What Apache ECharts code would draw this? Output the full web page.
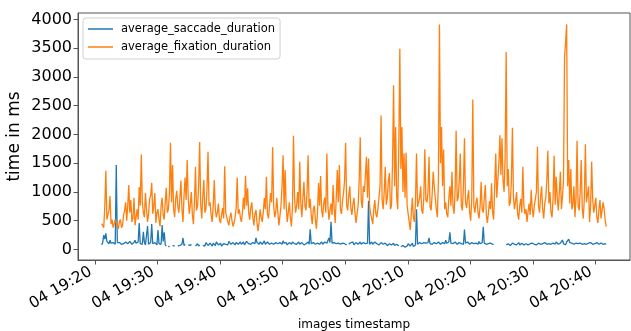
<!DOCTYPE html>
<html>
<head>
<meta charset="utf-8">
<script src="https://cdn.jsdelivr.net/npm/echarts@6/dist/echarts.min.js"></script>
<style>
  html, body { margin: 0; padding: 0; background: #fff; }
  #chart { width: 631px; height: 331px; }
</style>
</head>
<body>
<div id="chart"></div>
<script>
// samples every 10 s from 04 19:21:04 to 04 20:41:44
const startTime = Date.UTC(2021, 0, 4, 19, 21, 4);
const stepMs = 10000;

const fixation = [
  450, 420, 380, 760, 1368, 520, 600, 680, 930, 440, 520, 380, 400, 520, 460, 400, 360, 480, 520, 380, 420, 600, 680, 820,
  500, 760, 1120, 640, 860, 480, 540, 900, 420, 560, 700, 520, 1085, 760, 1650, 820, 640, 560, 980, 700, 480, 620, 880, 940,
  1160, 620, 760, 980, 460, 640, 700, 520, 400, 760, 900, 600, 520, 840, 1073, 640, 700, 980, 1855, 820, 1467, 700, 560, 880,
  1020, 760, 640, 880, 1200, 700, 480, 940, 1250, 860, 1554, 900, 620, 780, 1000, 600, 440, 820, 1437, 680, 760, 1100, 1871, 780,
  540, 920, 1206, 640, 700, 1040, 1698, 760, 820, 600, 480, 760, 1206, 700, 560, 640, 800, 520, 460, 600, 720, 540, 1449, 640,
  560, 480, 420, 560, 640, 500, 400, 460, 560, 720, 1253, 620, 700, 560, 480, 640, 900, 700, 1281, 760, 1065, 640, 520, 720,
  820, 560, 420, 620, 686, 460, 320, 480, 700, 560, 480, 640, 894, 700, 1264, 620, 540, 760, 980, 820, 1780, 760, 560, 660,
  900, 640, 420, 580, 760, 1100, 1640, 700, 1380, 760, 480, 640, 820, 560, 400, 720, 1980, 900, 640, 760, 1000, 700, 1524, 820,
  560, 880, 1177, 760, 680, 1000, 1640, 720, 880, 600, 440, 700, 760, 520, 360, 640, 1154, 760, 1276, 680, 560, 800, 900, 640,
  1670, 760, 520, 680, 800, 600, 1120, 720, 460, 900, 1380, 820, 1467, 700, 620, 840, 980, 1200, 1855, 760, 680, 940, 1100, 720,
  600, 780, 900, 640, 460, 620, 760, 1200, 1950, 840, 720, 1100, 1000, 1300, 1611, 900, 1583, 760, 620, 540, 440, 700, 860, 620,
  560, 720, 900, 1100, 2330, 860, 700, 1000, 1437, 780, 900, 1200, 1330, 700, 760, 1500, 2855, 1100, 2132, 900, 700, 1800, 3493, 1400,
  2132, 1000, 1670, 900, 1680, 760, 620, 480, 340, 620, 900, 560, 480, 820, 1670, 740, 760, 900, 1100, 680, 620, 900, 1745, 860,
  820, 1000, 1611, 740, 680, 960, 1350, 1100, 900, 700, 560, 1200, 3915, 1500, 2132, 1100, 1740, 700, 820, 620, 560, 880, 1100, 760,
  1350, 760, 620, 1000, 2063, 840, 900, 1200, 1670, 760, 680, 1100, 1935, 820, 720, 900, 1033, 640, 500, 900, 2607, 760, 640, 820,
  900, 640, 540, 760, 1177, 700, 640, 900, 1120, 600, 460, 640, 840, 700, 1150, 640, 520, 1100, 1670, 900, 1200, 1500, 1988, 1300,
  1935, 1200, 1000, 1600, 3434, 1100, 1400, 760, 820, 1200, 2115, 900, 700, 840, 1000, 620, 520, 760, 880, 640, 1437, 760, 620, 700,
  480, 660, 800, 600, 1033, 720, 560, 760, 880, 1000, 1785, 760, 640, 900, 1100, 700, 540, 800, 900, 1200, 1715, 800, 1000, 640,
  560, 900, 1628, 780, 1264, 900, 680, 1000, 1350, 700, 917, 1200, 3347, 3600, 3915, 1100, 1554, 800, 1400, 700, 780, 1100, 560, 900,
  1889, 760, 680, 1000, 1554, 700, 540, 900, 1831, 820, 800, 1100, 480, 760, 1524, 880, 640, 760, 900, 560, 460, 700, 859, 540,
  560, 820, 703, 500, 396
];

// '-' = missing sample
const saccade = [
  80, 120, 250, 180, 280, 140, 120, 100, 160, 110, 90, 120, 110, 90, 1470, 120, 100, 120, 140, 90, 120, 100, 90, 130,
  150, 100, 110, 140, 130, 90, 100, 120, 160, 110, 90, 130, 460, 100, 120, 90, 309, 120, 80, 110, 408, 90, 100, 120,
  443, 100, 90, 120, 140, 80, 338, 100, 120, 90, 425, 140, 300, 80, 60, '-', 40, 60, '-', '-', 70, 50, 60, '-',
  '-', 60, 50, 70, 80, 90, 200, 70, 90, '-', '-', 80, 110, 70, 90, '-', '-', '-', 60, 90, 100, 60, 80, '-',
  '-', 70, 90, 60, 120, 90, 70, 100, 110, 80, 60, 110, 90, 70, 130, 100, 80, 90, 110, 60, 70, 100, 120, 90,
  100, 80, 140, 110, 90, 70, 120, 100, 80, 120, 150, 90, 110, 130, 90, 110, 130, 80, 100, 140, 160, 100, 120, 90,
  90, 120, 140, 100, 200, 120, 110, 90, 130, 100, 90, 120, 150, 90, 100, 130, 120, 90, 80, 110, 140, 90, 100, 120,
  130, 100, 90, 120, 110, 90, 150, 110, 100, 120, 80, 110, 120, 90, 90, 130, 140, 100, 70, 90, 110, 130, 90, 110,
  120, 90, 80, 110, 100, 80, 130, 90, 350, 100, 90, 120, 110, 90, 80, 110, 120, 90, 100, 130, 90, 110, 130, 100,
  110, 90, 200, 120, 483, 110, 100, 120, 140, 100, 90, 110, 120, 90, 80, 110, 130, 100, 100, 80, '-', 90, 90, 120,
  110, 130, 80, 100, 120, 90, 90, 110, 130, 90, 100, 120, 140, 100, 120, 110, 847, 90, 110, 130, 90, 110, 130, 100,
  100, 120, 80, 110, 120, 100, 90, 110, 110, 80, 70, 100, 100, 90, 80, 110, 110, 70, 60, 90, 90, 60, '-', 50,
  40, 70, 80, 40, 20, 60, 100, 70, 60, 90, 110, 50, 30, 80, 698, 90, 90, 120, 130, 100, 100, 120, 150, 110,
  90, 120, 200, 100, 110, 90, 80, 120, 130, 100, 100, 130, 150, 90, 90, 120, 120, 100, 160, 110, 100, 130, 300, 110,
  120, 100, 90, 130, 140, 90, 100, 120, 130, 100, 110, 90, 345, 110, 100, 130, 150, 90, 90, 120, 120, 100, 80, 110,
  110, 90, 140, 100, 90, 120, 396, 110, 100, 90, 120, 100, 80, 110, 110, 90, 90, '-', '-', '-', '-', '-', '-', '-',
  '-', '-', '-', '-', 80, 90, 100, 70, 70, 100, 110, 90, 90, 70, 80, 100, 120, 80, 90, 110, 100, 80, 70, 100,
  110, 80, 90, 100, 80, 110, 120, 90, 100, 80, 90, 110, 130, 90, 80, 100, 100, 120, 110, 90, 90, 100, 120, 90,
  80, 110, 100, 90, 130, 100, 90, 120, 110, 90, 165, 100, 100, 80, 130, 110, 180, 120, 90, 110, 120, 90, 100, 110,
  130, 100, 90, 110, 110, 90, 80, 100, 120, 90, 100, 110, 90, 120, 110, 90, 80, 100, 100, 120, 120, 90, 90, 110,
  110, 90, 80, 100, 90
];

const xTickLabels = ['19:20', '19:30', '19:40', '19:50', '20:00', '20:10', '20:20', '20:30', '20:40'];
const yTicks = [0, 500, 1000, 1500, 2000, 2500, 3000, 3500, 4000];

function toMs(hhmm) {
  const p = hhmm.split(':');
  return Date.UTC(2021, 0, 4, +p[0], +p[1], 0);
}
const xTicks = xTickLabels.map(toMs);
const minute = 60000;

function pairs(values) {
  return values.map((v, i) => [startTime + i * stepMs, v]);
}

function fmtTime(value) {
  const d = new Date(value);
  const hh = String(d.getUTCHours()).padStart(2, '0');
  const mm = String(d.getUTCMinutes()).padStart(2, '0');
  return '04 ' + hh + ':' + mm;
}

const chart = echarts.init(document.getElementById('chart'), null, { renderer: 'canvas' });
const font = 'DejaVu Sans';
const spine = '#555';

chart.setOption({
  animation: false,
  textStyle: { fontFamily: font },
  grid: {
    left: 78,
    right: 1,
    top: 13,
    bottom: 71,
    outerBoundsMode: 'none',
    show: true,
    borderColor: spine,
    borderWidth: 1,
  },
  legend: {
    orient: 'vertical',
    left: 83,
    top: 18,
    icon: 'rect',
    itemWidth: 25,
    itemHeight: 1.5,
    itemGap: 4,
    padding: [4, 5, 5, 5],
    backgroundColor: 'rgba(255,255,255,0.8)',
    borderColor: '#d0d0d0',
    borderWidth: 1,
    borderRadius: 3,
    textStyle: {
      fontFamily: font,
      fontSize: 11.5,
      lineHeight: 14,
      color: '#000',
      padding: [0, 0, 0, 3],
    },
    data: ['average_saccade_duration', 'average_fixation_duration'],
  },
  xAxis: {
    // plain value axis holding ms timestamps, labels formatted as times
    type: 'value',
    min: toMs('19:20') - 2.718 * minute,
    max: toMs('19:20') + 85.53 * minute,
    name: 'images timestamp',
    nameLocation: 'middle',
    nameGap: 59,
    nameMoveOverlap: false,
    nameTextStyle: { fontFamily: font, fontSize: 12, color: '#000' },
    axisLine: { show: true, onZero: false, lineStyle: { color: spine, width: 1 } },
    axisTick: { show: true, length: 4.5, customValues: xTicks, lineStyle: { color: spine } },
    axisLabel: {
      customValues: xTicks,
      rotate: 30,
      margin: 8,
      padding: [0, 5, 0, 0],
      fontFamily: font,
      fontSize: 15.5,
      color: '#000',
      formatter: fmtTime,
    },
    splitLine: { show: false },
  },
  yAxis: {
    type: 'value',
    min: -183,
    max: 4113,
    name: 'time in ms',
    nameLocation: 'middle',
    nameGap: 55,
    nameMoveOverlap: false,
    nameTextStyle: { fontFamily: font, fontSize: 17, color: '#000' },
    axisLine: { show: true, onZero: false, lineStyle: { color: spine, width: 1 } },
    axisTick: { show: true, length: 4.5, customValues: yTicks, lineStyle: { color: spine } },
    axisLabel: {
      customValues: yTicks,
      margin: 6,
      fontFamily: font,
      fontSize: 16,
      color: '#000',
      formatter: (v) => String(v),
    },
    splitLine: { show: false },
  },
  series: [
    {
      name: 'average_saccade_duration',
      type: 'line',
      data: pairs(saccade),
      showSymbol: false,
      symbol: 'none',
      connectNulls: false,
      color: '#1f77b4',
      lineStyle: { width: 1.3, color: '#1f77b4' },
    },
    {
      name: 'average_fixation_duration',
      type: 'line',
      data: pairs(fixation),
      showSymbol: false,
      symbol: 'none',
      color: '#ff7f0e',
      lineStyle: { width: 1.3, color: '#ff7f0e' },
    },
  ],
});
</script>
</body>
</html>
